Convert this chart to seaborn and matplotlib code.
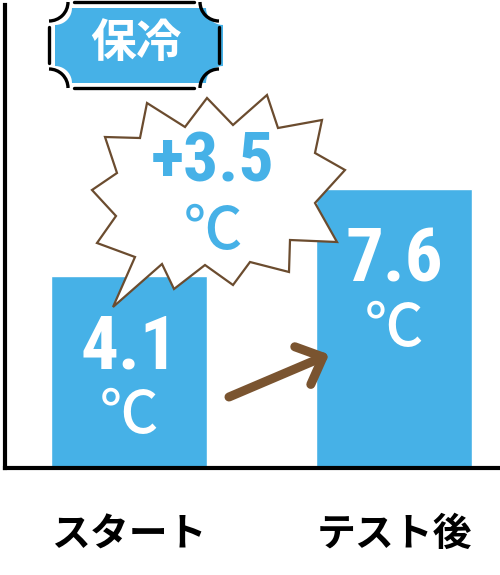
import numpy as np
import pandas as pd
import matplotlib
matplotlib.use("Agg")
import matplotlib.pyplot as plt
from matplotlib.patches import Polygon, Arc
import seaborn as sns

# data
stages = ["スタート", "テスト後"]
temps = [4.1, 7.6]
rise_label = "+3.5"
badge_label = "保冷"
unit = "℃"

BLUE = "#46B1E7"
BROWN = "#7A5430"
BURST_EDGE = "#6B4C2F"
Y_BASE = -3.6   # axis does not start at zero in the original
Y_TOP = 15.0

sns.set_theme(style="white")
plt.rcParams["font.family"] = ["Noto Sans CJK JP", "DejaVu Sans"]
NUM_FONT = ["Roboto Condensed", "DejaVu Sans"]
CJK_FONT = ["Noto Sans CJK JP", "DejaVu Sans"]

df = pd.DataFrame({"stage": stages, "temp": temps})
df["height"] = df["temp"] - Y_BASE

fig = plt.figure(figsize=(5, 5.75), dpi=100)
ax = fig.add_axes([0.01, 0.1861, 0.99, 0.8052])
sns.barplot(data=df, x="stage", y="height", bottom=Y_BASE, color=BLUE,
            saturation=1, width=0.589, errorbar=None, ax=ax)

sns.despine(ax=ax)
for s in ["left", "bottom"]:
    ax.spines[s].set_color("black")
    ax.spines[s].set_linewidth(3)
ax.set_xlim(-0.468, 1.4)
ax.set_ylim(Y_BASE, Y_TOP)
ax.set_yticks([])
ax.set_xlabel("")
ax.set_ylabel("")
ax.tick_params(axis="x", length=0, pad=34, labelsize=28, colors="black")
for t in ax.get_xticklabels():
    t.set_fontweight("bold")

# value labels inside the bars
for i, t in enumerate(temps):
    ax.annotate(f"{t}", xy=(i, t), xytext=(0, -72), textcoords="offset pixels",
                ha="center", va="center", color="white", fontsize=54,
                fontweight="bold", fontstretch="condensed", family=NUM_FONT)
    ax.annotate(unit, xy=(i, t), xytext=(0, -140), textcoords="offset pixels",
                ha="center", va="center", color="white", fontsize=42,
                fontweight="medium", family=CJK_FONT)

# overlay in pixel coords for the decorations
ov = fig.add_axes([0, 0, 1, 1], zorder=5)
ov.set_xlim(0, 500)
ov.set_ylim(575, 0)
ov.axis("off")
ov.patch.set_alpha(0)

# speech burst
burst = [(105, 137), (140, 138), (147, 103), (185, 127), (207, 98), (233, 125),
         (267, 95), (278, 128), (322, 120), (315, 153), (345, 170), (315, 203),
         (337, 242), (290, 240), (289, 272), (250, 262), (233, 285), (205, 265),
         (174, 289), (162, 264), (113, 307), (135, 257), (97, 243), (116, 216),
         (92, 190), (117, 173)]
ov.add_patch(Polygon(burst, closed=True, fc="white", ec=BURST_EDGE, lw=1.6,
                     joinstyle="miter"))
ov.text(213, 163, rise_label, ha="center", va="center", color=BLUE, fontsize=50,
        fontweight="bold", fontstretch="condensed", family=NUM_FONT)
ov.text(213, 232, unit, ha="center", va="center", color=BLUE, fontsize=42,
        fontweight="medium", family=CJK_FONT)

# arrow between the bars
tail = np.array([229.0, 397.0])
tip = np.array([323.0, 357.0])
back = (tail - tip) / np.linalg.norm(tail - tip)
def rot(v, deg):
    a = np.radians(deg)
    return np.array([v[0] * np.cos(a) - v[1] * np.sin(a),
                     v[0] * np.sin(a) + v[1] * np.cos(a)])
arm1 = tip + 30 * rot(back, 43)
arm2 = tip + 30 * rot(back, -43)
ov.plot([tail[0], tip[0]], [tail[1], tip[1]], color=BROWN, lw=6.5,
        solid_capstyle="round")
ov.plot([arm1[0], tip[0], arm2[0]], [arm1[1], tip[1], arm2[1]], color=BROWN,
        lw=6.5, solid_capstyle="round", solid_joinstyle="round")

# ticket badge
def ticket(x0, y0, x1, y1, r, n=12):
    pts = []
    for (cx, cy), a0, a1 in [((x1, y0), 180, 90), ((x1, y1), 270, 180),
                             ((x0, y1), 360, 270), ((x0, y0), 90, 0)]:
        for a in np.radians(np.linspace(a0, a1, n)):
            pts.append((cx + r * np.cos(a), cy + r * np.sin(a)))
    return pts

ov.add_patch(Polygon(ticket(55, 8, 223, 83, 17), closed=True, fc=BLUE, ec="none"))
L, T, R, B, rr = 49, 2, 219, 88, 19
seg_kw = dict(color="black", lw=2.4, solid_capstyle="round")
ov.plot([L + rr + 6, R - rr - 6], [T, T], **seg_kw)
ov.plot([L + rr + 6, R - rr - 6], [B, B], **seg_kw)
ov.plot([L, L], [T + rr + 6, B - rr - 6], **seg_kw)
ov.plot([R, R], [T + rr + 6, B - rr - 6], **seg_kw)
for (cx, cy), t1, t2 in [((L, T), 0, 90), ((R, T), 90, 180),
                         ((R, B), 180, 270), ((L, B), 270, 360)]:
    ov.add_patch(Arc((cx, cy), 2 * rr, 2 * rr, theta1=t1, theta2=t2,
                     color="black", lw=2.4))
ov.text(136, 44, badge_label, ha="center", va="center", color="white",
        fontsize=33, fontweight="bold", family=CJK_FONT)

fig.savefig("out.png", dpi=100)
